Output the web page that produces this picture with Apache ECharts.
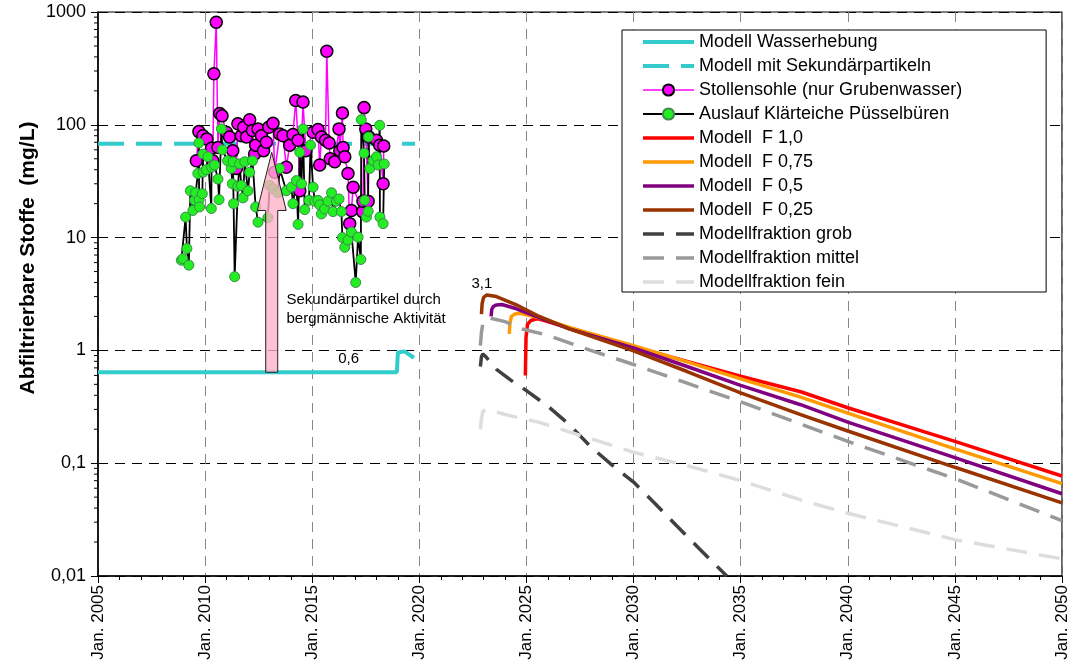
<!DOCTYPE html>
<html>
<head>
<meta charset="utf-8">
<script src="https://cdn.jsdelivr.net/npm/echarts@6/dist/echarts.min.js"></script>
<style>
  html, body { margin: 0; padding: 0; background: #fff; }
  #chart { width: 1070px; height: 665px; }
</style>
</head>
<body>
<div id="chart"></div>
<script>
// ---- axes ----
const X_MIN = 2005, X_MAX = 2050, X_STEP = 5;
const Y_MIN = 0.01, Y_MAX = 1000;
const Y_TITLE = 'Abfiltrierbare Stoffe  (mg/L)';

// ---- Modell Wasserhebung (water lifting model) ----
const whYears  = [2005, 2018.95, 2019.0, 2019.3, 2019.75];
const whValues = [0.64, 0.64, 0.96, 0.98, 0.86];
const whLabelYear = 2016.7;

// ---- Modell mit Sekundärpartikeln ----
const skYears  = [2005, 2019.8];
const skValues = [68, 68];

// ---- Stollensohle (nur Grubenwasser) measurements ----
const stYears = [2009.59, 2009.71, 2009.90, 2010.08, 2010.30, 2010.36, 2010.41, 2010.52, 2010.60, 2010.68,
  2010.79, 2010.99, 2011.14, 2011.29, 2011.46, 2011.53, 2011.69, 2011.80, 2011.93, 2012.08,
  2012.21, 2012.31, 2012.36, 2012.47, 2012.63, 2012.73, 2012.86, 2012.97, 2013.17, 2013.25,
  2013.48, 2013.64, 2013.79, 2013.95, 2014.10, 2014.23, 2014.34, 2014.42, 2014.57, 2014.70,
  2015.04, 2015.27, 2015.35, 2015.43, 2015.62, 2015.68, 2015.79, 2015.84, 2016.05, 2016.25,
  2016.29, 2016.41, 2016.44, 2016.52, 2016.67, 2016.75, 2016.83, 2016.91, 2017.35, 2017.37,
  2017.42, 2017.50, 2017.61, 2017.65, 2018.00, 2018.15, 2018.31, 2018.34];
const stValues = [48, 87, 80, 75, 62, 48, 284, 812, 63, 126,
  120, 86, 78, 59, 41, 102, 80, 95, 78, 111,
  89, 55, 66, 92, 80, 59, 70, 95, 103, 38,
  83, 80, 42, 66, 82, 164, 73, 26, 159, 59,
  86, 91, 44, 78, 73, 448, 69, 50, 47, 92,
  59, 127, 63, 52, 37, 13.3, 17.4, 28, 17, 21,
  142, 92, 21, 78, 73, 66, 30, 65];

// ---- Auslauf Klärteiche Püsselbüren measurements ----
const alYears = [2008.89, 2008.96, 2009.09, 2009.15, 2009.24, 2009.31, 2009.43, 2009.51, 2009.56, 2009.66,
  2009.71, 2009.72, 2009.74, 2009.87, 2009.90, 2009.91, 2010.06, 2010.13, 2010.29, 2010.30,
  2010.44, 2010.60, 2010.65, 2010.76, 2010.80, 2011.05, 2011.22, 2011.27, 2011.30, 2011.33,
  2011.38, 2011.53, 2011.61, 2011.69, 2011.77, 2011.85, 2012.00, 2012.08, 2012.21, 2012.36,
  2012.47, 2012.93, 2013.01, 2013.17, 2013.40, 2013.48, 2013.79, 2014.03, 2014.10, 2014.26,
  2014.34, 2014.42, 2014.50, 2014.57, 2014.65, 2014.85, 2014.92, 2015.04, 2015.12, 2015.27,
  2015.35, 2015.43, 2015.58, 2015.74, 2015.90, 2015.97, 2016.13, 2016.25, 2016.36, 2016.41,
  2016.52, 2016.67, 2016.83, 2017.03, 2017.14, 2017.27, 2017.29, 2017.42, 2017.45, 2017.53,
  2017.61, 2017.62, 2017.69, 2017.84, 2018.00, 2018.08, 2018.15, 2018.16, 2018.31, 2018.36];
const alValues = [6.3, 6.5, 15.2, 8.0, 5.7, 26, 17.4, 21.4, 25, 37,
  69, 21.7, 18.7, 24.5, 55, 38, 40, 52, 18.1, 42,
  44, 33, 21.7, 92, 60, 48, 41, 30, 47, 20,
  4.5, 28.5, 45, 29, 22.5, 47, 26, 38, 48, 18.7,
  13.7, 15, 29, 27, 25, 41, 26, 28, 20, 32,
  13.1, 57, 30, 92, 17.7, 21.4, 66, 28, 21, 21.4,
  19.5, 16.2, 18, 21, 25, 17, 21, 22, 17, 10,
  8.2, 9.5, 11.2, 4.0, 10.1, 6.4, 111, 56, 21.4, 15.2,
  17.1, 78, 41, 48, 52, 44, 99, 15.2, 13.3, 45];

// ---- forecast models by factor F ----
const f100Years  = [2024.95, 2024.98, 2025.05, 2025.2, 2025.45, 2025.6, 2027, 2030, 2032.5, 2035, 2037.8, 2040, 2045, 2050];
const f100Values = [0.6, 1.3, 1.7, 1.84, 1.9, 1.9, 1.58, 1.08, 0.8, 0.59, 0.43, 0.31, 0.156, 0.077];
const f075Years  = [2024.2, 2024.23, 2024.3, 2024.45, 2024.7, 2025.6, 2027, 2030, 2032.5, 2035, 2037.8, 2040, 2045, 2050];
const f075Values = [1.4, 1.75, 2.0, 2.1, 2.13, 1.95, 1.6, 1.1, 0.79, 0.56, 0.385, 0.278, 0.134, 0.066];
const f050Years  = [2023.35, 2023.38, 2023.45, 2023.6, 2023.85, 2024.5, 2025.6, 2027, 2030, 2032.5, 2035, 2037.8, 2040, 2045, 2050];
const f050Values = [2.0, 2.3, 2.45, 2.53, 2.55, 2.35, 1.95, 1.55, 1.05, 0.72, 0.49, 0.33, 0.231, 0.112, 0.0536];
const f025Years  = [2022.9, 2022.93, 2023.0, 2023.15, 2023.6, 2024.5, 2025.6, 2027, 2030, 2032.5, 2035, 2037.8, 2040, 2045, 2050];
const f025Values = [2.1, 2.6, 2.95, 3.1, 3.0, 2.55, 2.0, 1.55, 0.99, 0.65, 0.42, 0.27, 0.193, 0.092, 0.0445];
const f025PeakIndex = 3;

// ---- model fractions ----
const grobYears  = [2022.85, 2022.9, 2022.97, 2023.1, 2023.6, 2024.3, 2025, 2026, 2027, 2028, 2029, 2030, 2031, 2032, 2033, 2034.35];
const grobValues = [0.72, 0.88, 0.93, 0.88, 0.68, 0.54, 0.44, 0.32, 0.22, 0.14, 0.096, 0.068, 0.044, 0.028, 0.018, 0.01];
const mittelYears  = [2022.85, 2022.9, 2022.97, 2023.2, 2024, 2024.8, 2026, 2028, 2030, 2035, 2040, 2045, 2050];
const mittelValues = [1.1, 1.45, 1.75, 1.95, 1.8, 1.55, 1.36, 1.0, 0.75, 0.35, 0.156, 0.073, 0.031];
const feinYears  = [2022.85, 2022.9, 2022.97, 2023.2, 2024, 2025.6, 2028, 2030, 2032.5, 2035, 2038, 2040, 2045, 2050];
const feinValues = [0.2, 0.25, 0.29, 0.3, 0.27, 0.23, 0.165, 0.125, 0.095, 0.07, 0.046, 0.036, 0.021, 0.0142];

// ---- annotation arrow: secondary particles from mining activity ----
const arrowYear = 2013.11;
const arrowNeck = 17.4;
const arrowTip = 57;
const noteLines = ['Sekundärpartikel durch', 'bergmännische Aktivität'];
const noteAnchor = [2013.8, 2.3];

const zip = (xs, ys) => xs.map((x, i) => [x, ys[i]]);
const decimalComma = v => String(v).replace('.', ',');
const oneDecimal = v => v.toFixed(1).replace('.', ',');

// minor ticks of the log axis (2..9 within each decade)
const yMinorTicks = [];
for (let e = Math.log10(Y_MIN); e < Math.log10(Y_MAX); e++) {
  for (let m = 2; m <= 9; m++) yMinorTicks.push(m * Math.pow(10, e));
}

const FONT = '"Liberation Sans", Arial, sans-serif';

function plainLine(name, years, values, color, width, dash) {
  return {
    type: 'line', name, data: zip(years, values),
    symbol: 'none', showSymbol: false,
    lineStyle: { color, width, type: dash || 'solid', cap: 'butt' },
    itemStyle: { color },
    z: 3
  };
}

const WH_LEVEL = whValues[0];

const series = [
  Object.assign(plainLine('Modell Wasserhebung', whYears, whValues, '#33CCCC', 4), {
    markPoint: {
      symbol: 'circle', symbolSize: 0, silent: true,
      itemStyle: { color: 'transparent' },
      label: { show: true, position: 'top', distance: 6, color: '#000', fontSize: 15, fontFamily: FONT,
               formatter: p => oneDecimal(p.value) },
      data: [{ coord: [whLabelYear, WH_LEVEL], value: WH_LEVEL }]
    }
  }),
  plainLine('Modell mit Sekundärpartikeln', skYears, skValues, '#33CCCC', 4, [26, 12]),
  {
    type: 'line', name: 'Stollensohle (nur Grubenwasser)', data: zip(stYears, stValues),
    symbol: 'circle', symbolSize: 12, showSymbol: true,
    lineStyle: { color: '#FF00FF', width: 1.5 },
    itemStyle: { color: '#FF00FF', borderColor: '#000', borderWidth: 1.5 },
    z: 3
  },
  {
    type: 'line', name: 'Auslauf Klärteiche Püsselbüren', data: zip(alYears, alValues),
    symbol: 'circle', symbolSize: 10, showSymbol: true,
    lineStyle: { color: '#000', width: 1.8 },
    itemStyle: { color: '#22EE22', borderColor: '#3C8A4C', borderWidth: 1 },
    z: 3
  },
  plainLine('Modell  F 1,0', f100Years, f100Values, '#FF0000', 3.5),
  plainLine('Modell  F 0,75', f075Years, f075Values, '#FF9900', 3.5),
  plainLine('Modell  F 0,5', f050Years, f050Values, '#800080', 3.5),
  Object.assign(plainLine('Modell  F 0,25', f025Years, f025Values, '#993300', 3.5), {
    markPoint: {
      symbol: 'circle', symbolSize: 0, silent: true,
      itemStyle: { color: 'transparent' },
      label: { show: true, position: 'top', distance: 4, offset: [-5, 0], color: '#000', fontSize: 15, fontFamily: FONT,
               formatter: p => oneDecimal(p.value) },
      data: [{ coord: [f025Years[f025PeakIndex], f025Values[f025PeakIndex]], value: f025Values[f025PeakIndex] }]
    }
  }),
  plainLine('Modellfraktion grob', grobYears, grobValues, '#404040', 3.5, [21, 12]),
  plainLine('Modellfraktion mittel', mittelYears, mittelValues, '#999999', 3.5, [21, 12]),
  plainLine('Modellfraktion fein', feinYears, feinValues, '#DDDDDD', 3.5, [21, 12]),
  {
    type: 'custom', name: 'arrow', silent: true, z: 6, clip: false,
    data: [[arrowYear, WH_LEVEL, arrowNeck, arrowTip]],
    encode: { x: 0, y: 1 },
    renderItem: (params, api) => {
      const b = api.coord([api.value(0), api.value(1)]);
      const n = api.coord([api.value(0), api.value(2)]);
      const t = api.coord([api.value(0), api.value(3)]);
      const sw = 6, hw = 14.5;
      return {
        type: 'polygon',
        shape: { points: [[b[0] - sw, b[1]], [b[0] - sw, n[1]], [b[0] - hw, n[1]], [t[0], t[1]],
                          [b[0] + hw, n[1]], [b[0] + sw, n[1]], [b[0] + sw, b[1]]] },
        style: { fill: 'rgba(255, 175, 200, 0.78)', stroke: '#222', lineWidth: 1 }
      };
    }
  },
  {
    type: 'custom', name: 'yMinorTicks', silent: true, z: 6, clip: false,
    data: yMinorTicks.map(v => [X_MIN, v]),
    encode: { x: 0, y: 1 },
    renderItem: (params, api) => {
      const p = api.coord([api.value(0), api.value(1)]);
      return { type: 'line', shape: { x1: p[0] - 4, y1: p[1], x2: p[0], y2: p[1] },
               style: { stroke: '#000', lineWidth: 1 } };
    }
  }
];

// legend entries: line-only series get an invisible marker so only the stroke shows
const markerSeries = ['Stollensohle (nur Grubenwasser)', 'Auslauf Klärteiche Püsselbüren'];
const legendNames = ['Modell Wasserhebung', 'Modell mit Sekundärpartikeln', 'Stollensohle (nur Grubenwasser)',
  'Auslauf Klärteiche Püsselbüren', 'Modell  F 1,0', 'Modell  F 0,75', 'Modell  F 0,5',
  'Modell  F 0,25', 'Modellfraktion grob', 'Modellfraktion mittel', 'Modellfraktion fein'];
const legendData = legendNames.map(name => markerSeries.includes(name)
  ? { name }
  : { name, itemStyle: { color: 'rgba(0,0,0,0)', borderColor: 'rgba(0,0,0,0)', borderWidth: 0, opacity: 0 } });

const chart = echarts.init(document.getElementById('chart'), null, { renderer: 'canvas' });

chart.setOption({
  animation: false,
  backgroundColor: '#fff',
  textStyle: { fontFamily: FONT, color: '#000' },
  grid: { left: 98, right: 8, top: 12, bottom: 89, show: true, borderColor: '#000', borderWidth: 1.2,
          backgroundColor: 'transparent', containLabel: false, outerBoundsMode: 'none' },
  legend: {
    orient: 'vertical', left: 622, top: 30,
    padding: [3, 84, 1, 19],
    itemWidth: 51, itemHeight: 14, itemGap: 6,
    borderColor: '#000', borderWidth: 1, backgroundColor: '#fff', borderRadius: 0,
    selectedMode: false,
    lineStyle: { width: 'inherit' },
    textStyle: { fontSize: 18, color: '#000', fontFamily: FONT },
    data: legendData
  },
  xAxis: {
    type: 'value', min: X_MIN, max: X_MAX, interval: X_STEP,
    axisLine: { show: true, onZero: false, lineStyle: { color: '#000', width: 1.5 } },
    axisTick: { show: true, length: 7, lineStyle: { color: '#000', width: 1 } },
    minorTick: { show: true, splitNumber: 5, length: 4, lineStyle: { color: '#000', width: 1 } },
    splitLine: { show: true, lineStyle: { color: '#888', width: 1, type: [10, 7] } },
    axisLabel: { rotate: 90, fontSize: 17, color: '#000', margin: 9, fontFamily: FONT,
                 formatter: v => 'Jan. ' + v }
  },
  yAxis: {
    type: 'log', logBase: 10, min: Y_MIN, max: Y_MAX,
    axisLine: { show: true, onZero: false, lineStyle: { color: '#000', width: 1.5 } },
    axisTick: { show: true, length: 7, lineStyle: { color: '#000', width: 1 } },
    splitLine: { show: true, lineStyle: { color: '#000', width: 1, type: [10, 7] } },
    axisLabel: { fontSize: 18, color: '#000', margin: 12, fontFamily: FONT,
                 formatter: v => decimalComma(+v.toPrecision(6)) }
  },
  series
});

// axis title and explanatory note
const notePos = chart.convertToPixel({ gridIndex: 0 }, noteAnchor);
chart.setOption({
  graphic: [
    {
      type: 'text', x: 28, y: 258, rotation: Math.PI / 2,
      style: { text: Y_TITLE, fontSize: 21, fontWeight: 'bold', fontFamily: FONT,
               fill: '#000', align: 'center', verticalAlign: 'middle' }
    },
    {
      type: 'text', x: notePos[0], y: notePos[1],
      style: { text: noteLines.join('\n'), fontSize: 15, fontFamily: FONT, lineHeight: 19,
               fill: '#000', align: 'left', verticalAlign: 'middle' }
    }
  ]
});
</script>
</body>
</html>
